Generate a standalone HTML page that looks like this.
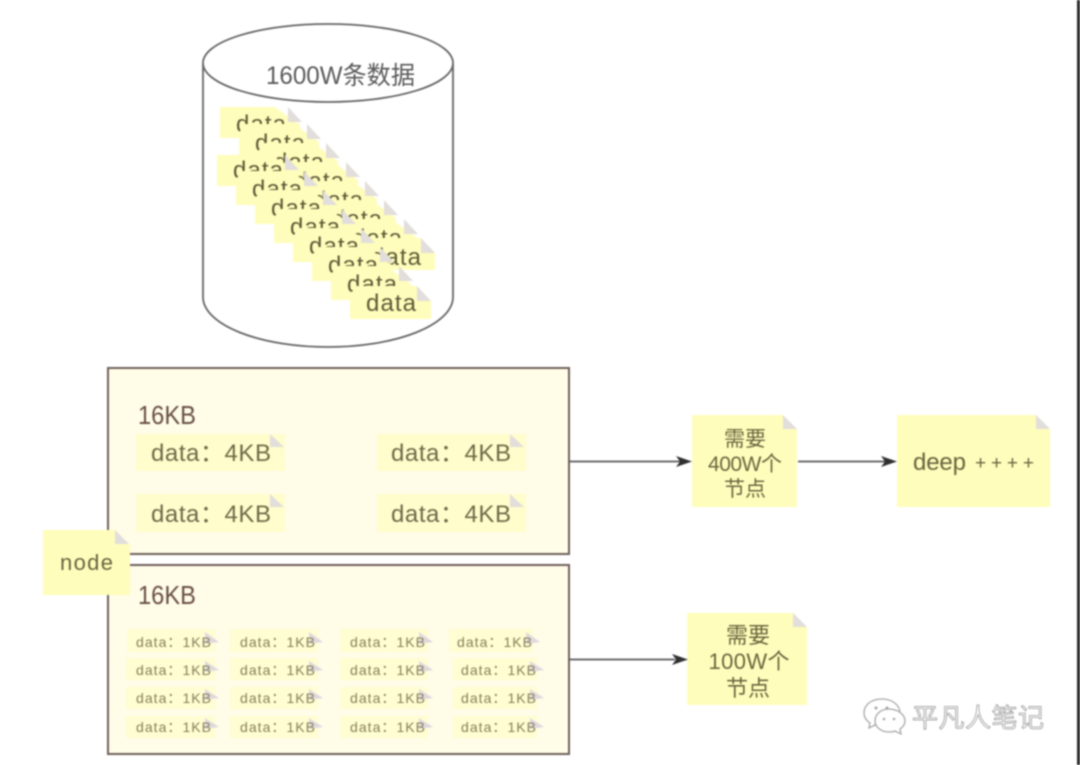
<!DOCTYPE html>
<html><head><meta charset="utf-8">
<style>
html,body{margin:0;padding:0;background:#fff;width:1080px;height:765px;overflow:hidden}
svg{display:block;position:absolute;left:0;top:0;filter:blur(0.7px)}
text{font-family:"Liberation Sans","Noto Sans CJK SC",sans-serif}
.n{fill:#fffdbb}
.f{fill:#e2dedb}
.d{font-size:24px;fill:#5f5a38}
.k4{font-size:24px;fill:#6f6a48}
.k1{font-size:14px;fill:#857f58}
.c{font-size:21px;fill:#6c6640;text-anchor:middle}
</style></head><body>
<svg width="1080" height="765" viewBox="0 0 1080 765" xmlns="http://www.w3.org/2000/svg">
<rect width="1080" height="765" fill="#fff"/>
<rect x="1077" y="0" width="3" height="765" fill="#2a2a2a"/>

<!-- cylinder -->
<path d="M203 63V297A125 50 0 0 0 453 297V63" fill="#fff" stroke="#666" stroke-width="1.8"/>
<ellipse cx="328" cy="63" rx="125" ry="39" fill="#fff" stroke="#666" stroke-width="1.8"/>
<text x="266" y="84" font-size="25" fill="#5a5a5a" textLength="149" lengthAdjust="spacingAndGlyphs">1600W条数据</text>

<!-- stack A -->
<g id="a">
<polygon class="n" points="220,107 275,107 300,125 300,138 220,138"/><polygon class="f" points="288,107 302,122 288,122"/><text class="d" x="236" y="132" textLength="50">data</text>
<polygon class="n" points="246,124 294,124 319,142 319,157 239,157 239,132"/><polygon class="f" points="307,124 321,139 307,139"/><text class="d" x="255" y="151" textLength="50">data</text>
<polygon class="n" points="265,143 313,143 338,161 338,176 258,176 258,151"/><polygon class="f" points="326,143 340,158 326,158"/><text class="d" x="274" y="170" textLength="50">data</text>
<polygon class="n" points="285,162 333,162 358,180 358,195 278,195 278,170"/><polygon class="f" points="346,162 360,177 346,177"/><text class="d" x="294" y="189" textLength="50">data</text>
<polygon class="n" points="304,181 352,181 377,199 377,213 297,213 297,189"/><polygon class="f" points="365,181 379,196 365,196"/><text class="d" x="313" y="208" textLength="50">data</text>
<polygon class="n" points="323,200 371,200 396,218 396,232 316,232 316,208"/><polygon class="f" points="384,200 398,215 384,215"/><text class="d" x="332" y="227" textLength="50">data</text>
<polygon class="n" points="343,219 391,219 416,237 416,251 336,251 336,227"/><polygon class="f" points="404,219 418,234 404,234"/><text class="d" x="352" y="246" textLength="50">data</text>
<polygon class="n" points="362,238 420,238 435,253 435,270 355,270 355,246"/><polygon class="f" points="421,238 435,253 421,253"/><text class="d" x="371" y="265" textLength="50">data</text>
</g>
<!-- stack B -->
<g id="b">
<polygon class="n" points="217,155 272,155 297,173 297,186 217,186"/><polygon class="f" points="285,155 299,170 285,170"/><text class="d" x="233" y="178" textLength="50">data</text>
<polygon class="n" points="243,171 291,171 316,189 316,205 236,205 236,179"/><polygon class="f" points="304,171 318,186 304,186"/><text class="d" x="252" y="197" textLength="50">data</text>
<polygon class="n" points="262,190 310,190 335,208 335,224 255,224 255,198"/><polygon class="f" points="323,190 337,205 323,205"/><text class="d" x="271" y="216" textLength="50">data</text>
<polygon class="n" points="281,209 329,209 354,227 354,243 274,243 274,217"/><polygon class="f" points="342,209 356,224 342,224"/><text class="d" x="290" y="235" textLength="50">data</text>
<polygon class="n" points="300,228 348,228 373,246 373,262 293,262 293,236"/><polygon class="f" points="361,228 375,243 361,243"/><text class="d" x="309" y="254" textLength="50">data</text>
<polygon class="n" points="319,247 367,247 392,265 392,281 312,281 312,255"/><polygon class="f" points="380,247 394,262 380,262"/><text class="d" x="328" y="273" textLength="50">data</text>
<polygon class="n" points="338,266 386,266 411,284 411,300 331,300 331,274"/><polygon class="f" points="399,266 413,281 399,281"/><text class="d" x="347" y="292" textLength="50">data</text>
<polygon class="n" points="357,286 416,286 431,301 431,319 350,319 350,294"/><polygon class="f" points="417,286 431,301 417,301"/><text class="d" x="366" y="311" textLength="50">data</text>
</g>

<!-- boxes -->
<rect x="108" y="368" width="461" height="186" fill="#fffce8" stroke="#6e5f5a" stroke-width="2"/>
<rect x="108" y="565" width="461" height="189" fill="#fffce8" stroke="#6e5f5a" stroke-width="2"/>
<text x="138" y="424" font-size="26" fill="#6a5048" textLength="58" lengthAdjust="spacingAndGlyphs">16KB</text>
<text x="138" y="604" font-size="26" fill="#6a5048" textLength="58" lengthAdjust="spacingAndGlyphs">16KB</text>

<!-- 4KB notes -->
<rect x="136" y="434" width="149" height="37" fill="#fffdcc"/><polygon class="f" points="270,434 284,447 270,447"/><text class="k4" x="151" y="461" textLength="120">data：4KB</text>
<rect x="377" y="434" width="149" height="37" fill="#fffdcc"/><polygon class="f" points="510,434 524,447 510,447"/><text class="k4" x="391" y="461" textLength="120">data：4KB</text>
<rect x="136" y="494" width="149" height="38" fill="#fffdcc"/><polygon class="f" points="270,494 284,507 270,507"/><text class="k4" x="151" y="522" textLength="120">data：4KB</text>
<rect x="377" y="494" width="149" height="38" fill="#fffdcc"/><polygon class="f" points="510,494 524,507 510,507"/><text class="k4" x="391" y="522" textLength="120">data：4KB</text>

<!-- 1KB notes -->
<g fill="#fffdd2">
<rect x="127" y="629" width="88" height="23"/><rect x="230" y="629" width="88" height="23"/><rect x="340" y="629" width="88" height="23"/><rect x="449" y="629" width="84" height="23"/>
<rect x="126" y="658" width="89" height="22"/><rect x="230" y="658" width="88" height="22"/><rect x="340" y="658" width="88" height="22"/><rect x="453" y="658" width="84" height="22"/>
<rect x="126" y="687" width="89" height="22"/><rect x="230" y="687" width="88" height="22"/><rect x="340" y="687" width="88" height="22"/><rect x="453" y="687" width="84" height="22"/>
<rect x="126" y="716" width="89" height="22"/><rect x="230" y="716" width="88" height="22"/><rect x="340" y="716" width="88" height="22"/><rect x="453" y="716" width="84" height="22"/>
</g>
<g fill="#dfd9de">
<polygon points="205,632 219,642 205,644"/><polygon points="309,632 323,642 309,644"/><polygon points="419,632 433,642 419,644"/><polygon points="526,632 540,642 526,644"/>
<polygon points="205,661 219,670 205,672"/><polygon points="309,661 323,670 309,672"/><polygon points="419,661 433,670 419,672"/><polygon points="530,661 544,670 530,672"/>
<polygon points="205,689 219,698 205,700"/><polygon points="309,689 323,698 309,700"/><polygon points="419,689 433,698 419,700"/><polygon points="530,689 544,698 530,700"/>
<polygon points="205,718 219,727 205,729"/><polygon points="309,718 323,727 309,729"/><polygon points="419,718 433,727 419,729"/><polygon points="530,718 544,727 530,729"/>
</g>
<g>
<text class="k1" x="136" y="647" textLength="75">data：1KB</text><text class="k1" x="240" y="647" textLength="75">data：1KB</text><text class="k1" x="350" y="647" textLength="75">data：1KB</text><text class="k1" x="457" y="647" textLength="75">data：1KB</text>
<text class="k1" x="136" y="675" textLength="75">data：1KB</text><text class="k1" x="240" y="675" textLength="75">data：1KB</text><text class="k1" x="350" y="675" textLength="75">data：1KB</text><text class="k1" x="461" y="675" textLength="75">data：1KB</text>
<text class="k1" x="136" y="703" textLength="75">data：1KB</text><text class="k1" x="240" y="703" textLength="75">data：1KB</text><text class="k1" x="350" y="703" textLength="75">data：1KB</text><text class="k1" x="461" y="703" textLength="75">data：1KB</text>
<text class="k1" x="136" y="732" textLength="75">data：1KB</text><text class="k1" x="240" y="732" textLength="75">data：1KB</text><text class="k1" x="350" y="732" textLength="75">data：1KB</text><text class="k1" x="461" y="732" textLength="75">data：1KB</text>
</g>

<!-- node note -->
<polygon points="43,530 115,530 130,545 130,595 43,595" fill="#fffdbb"/><polygon class="f" points="115,530 129,544 115,544"/>
<text x="60" y="570" font-size="22" fill="#6a6440" textLength="53">node</text>

<!-- right notes -->
<polygon class="n" points="692,415 783,415 797,429 797,507 692,507"/><polygon class="f" points="783,415 797,429 783,429"/>
<text class="c" x="745" y="446">需要</text>
<text class="c" x="745" y="471" textLength="74">400W个</text>
<text class="c" x="745" y="496">节点</text>

<polygon class="n" points="897,415 1036,415 1050,429 1050,507 897,507"/><polygon class="f" points="1036,415 1050,429 1036,429"/>
<text x="913" y="470" font-size="24" fill="#6a6440" textLength="53">deep</text>
<text x="975" y="469" font-size="19" fill="#6a6440" textLength="59">++++</text>

<polygon class="n" points="687,613 793,613 807,627 807,705 687,705"/><polygon class="f" points="793,613 807,627 793,627"/>
<text class="c" style="font-size:22px" x="748" y="643">需要</text>
<text class="c" style="font-size:22px" x="749" y="669" textLength="81">100W个</text>
<text class="c" style="font-size:22px" x="748" y="696">节点</text>

<!-- connectors -->
<g stroke="#5a5a5a" stroke-width="1.8" fill="none">
<path d="M569 461.500H680"/><path d="M798 461.500H885"/><path d="M569 659.500H675"/>
</g>
<g fill="#2f2f2f">
<polygon points="692,461.500 676,456 680,461.500 676,467"/>
<polygon points="897,461.500 881,456 885,461.500 881,467"/>
<polygon points="688,659.500 672,654 676,659.500 672,665"/>
</g>

<!-- watermark -->
<g fill="#fff" stroke="#a8a8a8" stroke-width="1.3">
<path d="M882 699C871 699 864 705 864 713C864 718 867 721 870 723L869 728L875 725C877 726 880 726 882 726C892 726 900 720 900 713C900 705 892 699 882 699Z"/>
<path d="M889 709C881 709 875 714 875 721C875 727 881 732 889 732C891 732 893 732 895 731L901 734L900 729C903 727 905 724 905 721C905 714 897 709 889 709Z"/>
</g>
<g fill="#a8a8a8"><circle cx="876" cy="708" r="1.500"/><circle cx="887" cy="708" r="1.500"/><circle cx="884" cy="719" r="1.300"/><circle cx="894" cy="719" r="1.300"/></g>
<text x="912" y="727" font-size="26" fill="#fff" stroke="#9a9a9a" stroke-width="0.8" textLength="132">平凡人笔记</text>
</svg>
</body></html>
